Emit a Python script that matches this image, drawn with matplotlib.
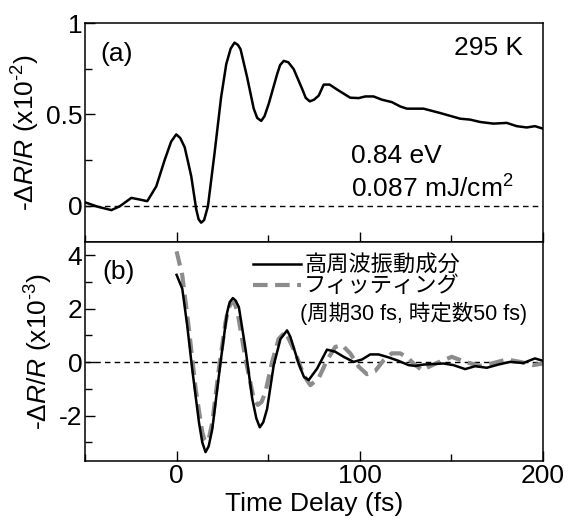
import numpy as np
import matplotlib
matplotlib.use("Agg")
from matplotlib import pyplot as plt
from matplotlib.ticker import MultipleLocator

plt.rcParams['font.family'] = ['Liberation Sans', 'Noto Sans CJK JP']
plt.rcParams['mathtext.fontset'] = 'custom'
plt.rcParams['mathtext.rm'] = 'Liberation Sans'
plt.rcParams['mathtext.it'] = 'Liberation Sans:italic'
plt.rcParams['axes.linewidth'] = 1.1

# (a) total reflectivity change, x10^-2
t_a = [-50.1, -42.9, -35.6, -31, -24.7, -20.2, -16, -11.1, -6.5, -3, -0.2, 2, 4.4, 6, 8, 10.7,
       12, 13.4, 15, 17.1, 20.7, 24.3, 27.1, 29.5, 31.6, 33.5, 34.9, 38.5, 42.1, 44, 46.2, 48,
       50.3, 54.9, 56.5, 58.5, 61, 63.9, 68.5, 70.5, 72.7, 75, 77.6, 80.3, 83.5, 88.5, 94.8,
       99.4, 103, 107.5, 112.1, 117.5, 122.1, 125.7, 134.8, 143.9, 154.8, 160.2, 165.7, 172.9,
       180.2, 185.7, 191.1, 195.6, 199.8]
r_a = [0.018, -0.007, -0.025, -0.004, 0.042, 0.033, 0.024, 0.105, 0.25, 0.35, 0.39, 0.37,
       0.32, 0.25, 0.16, -0.02, -0.075, -0.094, -0.08, -0.004, 0.286, 0.594, 0.775, 0.86,
       0.893, 0.88, 0.857, 0.703, 0.531, 0.48, 0.464, 0.49, 0.558, 0.721, 0.77, 0.793, 0.785,
       0.748, 0.64, 0.59, 0.571, 0.58, 0.603, 0.663, 0.663, 0.63, 0.591, 0.589, 0.598, 0.598,
       0.58, 0.567, 0.543, 0.531, 0.531, 0.507, 0.476, 0.471, 0.458, 0.449, 0.453, 0.435,
       0.428, 0.435, 0.422]

# (b) high-frequency oscillation component, x10^-3
t_osc = [0, 3.1, 5.8, 8.5, 12.2, 14, 15.8, 17.5, 19.5, 24, 27.6, 29, 30.7, 32.3, 34, 37.6,
         41.3, 43.5, 45.4, 47.3, 49.4, 53, 56.7, 60.3, 62.1, 66.6, 69.5, 72.1, 76.7, 82.1,
         86.6, 91.2, 96.6, 101.2, 105.7, 110.2, 115.7, 121.1, 126.6, 130.2, 134.8, 145.7,
         151.1, 157.5, 163, 169.3, 175.6, 182, 189.3, 195.6, 200]
r_osc = [3.27, 2.75, 1.37, -0.25, -2.25, -3.0, -3.37, -3.15, -2.5, 0, 1.87, 2.25, 2.4, 2.3,
         2.06, 0.5, -1.37, -2.1, -2.44, -2.25, -1.75, -0.12, 0.87, 1.19, 0.95, -0.05, -0.55,
         -0.67, -0.24, 0.47, 0.39, 0.2, 0.01, 0.1, 0.29, 0.29, 0.18, 0.05, -0.11, -0.14,
         -0.09, -0.05, -0.11, -0.26, -0.15, -0.21, -0.09, 0.01, -0.03, 0.14, 0.05]

# fitting curve (period 30 fs, time constant 50 fs)
t_fit = [0, 3.1, 6.7, 10.4, 14, 15.2, 16.3, 17.8, 19.5, 23.1, 26.7, 28.3, 30, 31.6, 33.1,
         37.6, 42.1, 44.3, 46.3, 48.5, 52.1, 55.7, 59.4, 64.9, 69.4, 73, 77.5, 82.1, 86.6,
         90.3, 94.8, 99.4, 103.9, 108.4, 113, 117.5, 122.1, 126.6, 129.3, 133.9, 142.1, 150.2,
         157.5, 165.7, 172, 180.2, 187.5, 194.7, 200]
r_fit = [4.15, 3.25, 1.25, -1.0, -2.62, -2.9, -3.0, -2.8, -2.25, -0.25, 1.5, 2.0, 2.25, 2.2,
         1.94, 0.12, -1.37, -1.6, -1.5, -1.12, 0, 0.87, 1.14, 0.33, -0.49, -0.86, -0.61, 0.07,
         0.57, 0.64, 0.33, -0.17, -0.45, -0.33, 0.07, 0.33, 0.33, 0.14, -0.05, -0.3, -0.03,
         0.2, 0.01, -0.14, -0.05, 0.1, 0.01, -0.11, -0.05]

fig = plt.figure(figsize=(5.72, 5.25), dpi=100)
axa = fig.add_axes([0.1486, 0.539, 0.8007, 0.417])
axb = fig.add_axes([0.1486, 0.122, 0.8007, 0.417], sharex=axa)

fs = 19
for ax in (axa, axb):
    ax.axhline(0, color='k', lw=1.0, ls=(0, (4, 3)), zorder=1)
    ax.tick_params(which='both', direction='in', top=False, right=False, labelsize=fs, pad=2)
    ax.tick_params(which='major', length=7, width=1.0)
    ax.tick_params(which='minor', length=5, width=1.0)
    ax.xaxis.set_major_locator(MultipleLocator(100))
    ax.xaxis.set_minor_locator(MultipleLocator(50))

axa.plot(t_a, r_a, color='k', lw=1.8)
axa.set_xlim(-50, 200)
axa.set_ylim(-0.2, 1.0)
axa.yaxis.set_minor_locator(MultipleLocator(0.25))
axa.set_yticks([0, 0.5, 1])
axa.set_yticklabels(['0', '0.5', '1'])
axa.tick_params(axis='x', labelbottom=False)
axa.set_ylabel('-$\\mathit{\\Delta R/R}$ (x10$^{\u20102}$)', fontsize=fs, labelpad=3)
axa.text(0.033, 0.858, '(a)', transform=axa.transAxes, fontsize=fs, va='center')
axa.text(0.956, 0.886, '295 K', transform=axa.transAxes, fontsize=fs, va='center', ha='right')
axa.text(0.581, 0.393, '0.84 eV', transform=axa.transAxes, fontsize=fs, va='center')
axa.text(0.581, 0.201, r'0.087 mJ/cm$^2$', transform=axa.transAxes, fontsize=fs, va='baseline')

axb.plot(t_fit, r_fit, color='#8c8c8c', lw=3.0, ls=(0, (3.5, 1.8)), label='フィッティング')
axb.plot(t_osc, r_osc, color='k', lw=1.8, label='高周波振動成分')
axb.set_ylim(-3.7, 4.5)
axb.yaxis.set_minor_locator(MultipleLocator(1))
axb.set_yticks([-2, 0, 2, 4])
axb.set_yticklabels(['-2', '0', '2', '4'])
axb.set_ylabel('-$\\mathit{\\Delta R/R}$ (x10$^{\u20103}$)', fontsize=fs, labelpad=3)
axb.set_xlabel('Time Delay (fs)', fontsize=fs, labelpad=3)
axb.text(0.037, 0.863, '(b)', transform=axb.transAxes, fontsize=fs, va='center')

h, l = axb.get_legend_handles_labels()
axb.legend(h[::-1], l[::-1], loc='upper left', bbox_to_anchor=(0.333, 1.01), frameon=False,
           fontsize=16, handlelength=2.15, handletextpad=0.15, labelspacing=0.0, borderpad=0.2)
axb.text(0.47, 0.672, '(周期30 fs, 時定数50 fs)', transform=axb.transAxes, fontsize=15.5,
         va='center')

fig.savefig('out.png', dpi=100)
